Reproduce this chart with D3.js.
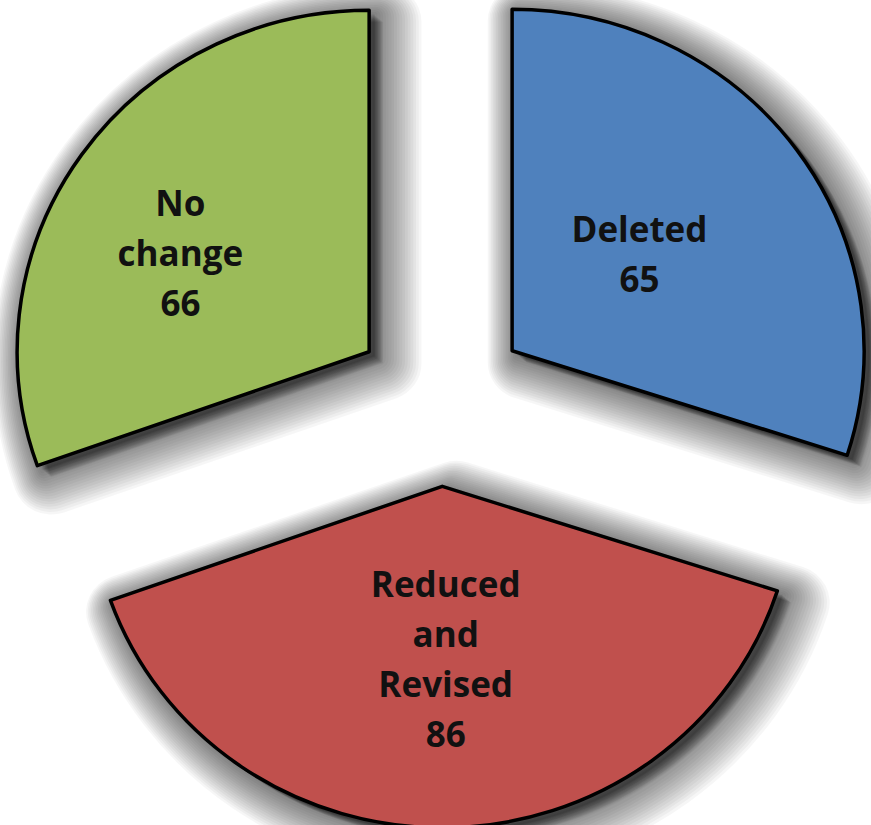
<!DOCTYPE html>
<html>
<head>
<meta charset="utf-8">
<script src="https://cdn.jsdelivr.net/npm/d3@7"></script>
<style>
  html, body { margin: 0; padding: 0; background: #fff; }
  svg { display: block; }
</style>
</head>
<body>
<div id="vis"></div>
<script>
const categories = ["Deleted", "Reduced and Revised", "No change"];
const values = [65, 86, 66];
const sliceColors = ["#4F81BD", "#C0504D", "#9BBB59"];

const width = 871, height = 825;
const cx = 441, cy = 401;
const radius = 352;
const explode = 88;
const squash = 0.97;
const lineGap = 50;

// per-label nudges (pixels) so the text sits where the original put it
const nudge = { "Deleted": [-6, -1], "Reduced and Revised": [1, 14], "No change": [-54, -5] };

const data = categories.map((c, i) => ({ name: c, value: values[i], color: sliceColors[i] }));

const svg = d3.select("#vis")
  .append("svg")
  .attr("width", width)
  .attr("height", height);

const pie = d3.pie().sort(null).value(d => d.value);
const arcs = pie(data);

const arc = d3.arc().innerRadius(0).outerRadius(radius);
const labelArc = d3.arc().innerRadius(165).outerRadius(165);

const mid = d => (d.startAngle + d.endAngle) / 2;
const shift = d => [Math.sin(mid(d)) * explode, -Math.cos(mid(d)) * explode];
const place = (d, dx, dy) => {
  const s = shift(d);
  return `translate(${cx + s[0] + dx},${cy + (s[1] + dy) * squash}) scale(1,${squash})`;
};

// soft drop shadow: stacked translucent copies that grow and drift down-right
// (svg filters don't render here)
const nLayers = 18;
const shadowG = svg.append("g");
d3.range(nLayers).forEach(k => {
  const u = k / (nLayers - 1);
  const f = 0.35 + 0.65 * u;
  shadowG.append("g").selectAll("path")
    .data(arcs)
    .enter()
    .append("path")
    .attr("transform", d => place(d, 14 * f, 12 * f))
    .attr("d", arc)
    .attr("fill", "#000")
    .attr("fill-opacity", 0.036)
    .attr("stroke", "#000")
    .attr("stroke-opacity", 0.036)
    .attr("stroke-width", 2 + k * 4.4)
    .attr("stroke-linejoin", "round");
});

svg.append("g").selectAll(".slice")
  .data(arcs)
  .enter()
  .append("path")
  .attr("class", "slice")
  .attr("transform", d => place(d, 0, 0))
  .attr("d", arc)
  .attr("fill", d => d.data.color)
  .attr("stroke", "#000")
  .attr("stroke-width", 3.5)
  .attr("stroke-linejoin", "round")
  .attr("vector-effect", "non-scaling-stroke");

const labels = svg.append("g")
  .attr("transform", `translate(${cx},${cy})`)
  .attr("font-family", "'Open Sans', sans-serif")
  .attr("font-weight", "bold")
  .attr("font-size", 35)
  .attr("fill", "#111")
  .attr("text-anchor", "middle");

arcs.forEach(d => {
  const c = labelArc.centroid(d);
  const s = shift(d);
  const n = nudge[d.data.name];
  const x = c[0] + s[0] + n[0];
  const y = (c[1] + s[1]) * squash + n[1];
  const lines = d.data.name.split(" ").concat([String(d.data.value)]);
  const t = labels.append("text");
  lines.forEach((ln, i) => {
    t.append("tspan")
      .attr("x", x)
      .attr("y", y + (i - (lines.length - 1) / 2) * lineGap + 12)
      .text(ln);
  });
});
</script>
</body>
</html>
